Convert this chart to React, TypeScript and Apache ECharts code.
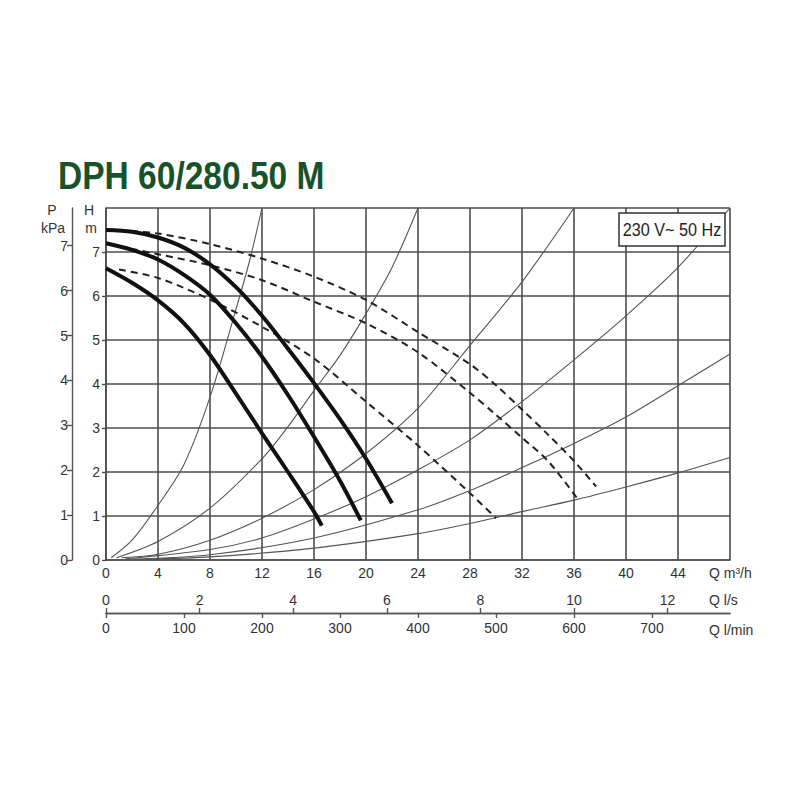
import React, { useEffect, useRef } from 'react';
import * as echarts from 'echarts';

const FONT = "'Liberation Sans', Arial, Helvetica, sans-serif";

// Tick values of the secondary scales
const lsTicks = [0, 2, 4, 6, 8, 10, 12];
const lminTicks = [0, 100, 200, 300, 400, 500, 600, 700];
const pTicks = [0, 1, 2, 3, 4, 5, 6, 7];

// Pump curves (Q m3/h, H m) – solid, three speeds
const speedHigh = [[0, 7.5], [2, 7.46], [4, 7.33], [6, 7.1], [8, 6.72], [10, 6.2], [12, 5.55], [14, 4.8], [16, 4.02], [18, 3.2], [20, 2.3], [22, 1.29]];
const speedMid = [[0, 7.2], [2, 7.05], [4, 6.83], [6, 6.48], [8, 6.03], [10, 5.38], [12, 4.62], [14, 3.75], [16, 2.8], [18, 1.8], [19.6, 0.9]];
const speedLow = [[0, 6.63], [2, 6.3], [4, 5.9], [6, 5.38], [8, 4.66], [10, 3.78], [12, 2.88], [14, 2.0], [16, 1.1], [16.6, 0.78]];

// Dashed curves
const dashHigh = [[1, 7.49], [4, 7.42], [8, 7.18], [12, 6.85], [16, 6.44], [20, 5.91], [24, 5.18], [28, 4.45], [30, 3.97], [32, 3.42], [34, 2.85], [36, 2.25], [37.7, 1.67]];
const dashMid = [[1, 7.13], [4, 6.95], [8, 6.7], [12, 6.36], [16, 5.87], [20, 5.38], [24, 4.72], [28, 3.8], [30, 3.3], [32, 2.78], [34, 2.25], [36.2, 1.42]];
const dashLow = [[1, 6.6], [4, 6.41], [8, 5.92], [12, 5.3], [16, 4.58], [20, 3.6], [24, 2.6], [28, 1.52], [30, 0.95]];

// System curves (thin)
const sysA = [[0.4, 0.05], [2, 0.45], [4, 1.24], [6, 2.17], [8, 3.7], [10, 5.7], [11, 6.75], [12, 8]];
const sysB = [[0.8, 0.05], [4, 0.42], [8, 1.18], [12, 2.3], [14, 3.03], [16, 3.85], [18, 4.65], [20, 5.6], [22, 6.65], [24, 8]];
const sysC = [[1.2, 0.05], [4, 0.13], [8, 0.45], [12, 0.95], [16, 1.6], [20, 2.42], [24, 3.45], [28, 4.88], [32, 6.32], [36, 8]];
const sysD = [[1.5, 0.03], [8, 0.24], [12, 0.5], [16, 0.93], [20, 1.44], [24, 2.05], [28, 2.73], [32, 3.6], [36, 4.55], [40, 5.55], [44, 6.65], [48, 8]];
const sysE = [[2, 0.02], [8, 0.12], [16, 0.5], [24, 1.14], [28, 1.58], [32, 2.1], [36, 2.65], [40, 3.25], [44, 3.96], [48, 4.68]];
const sysF = [[3, 0.02], [8, 0.07], [16, 0.27], [24, 0.6], [28, 0.83], [32, 1.1], [36, 1.36], [40, 1.66], [44, 1.98], [48, 2.33]];

const TITLE = 'DPH 60/280.50 M';
const BOX_TEXT = '230 V~ 50 Hz';

const GRID_COLOR = '#4d4d4d';
const LABEL_COLOR = '#333';

function lineSeries(data: number[][], lineStyle: any, z: number) {
  return {
    type: 'line',
    data,
    xAxisIndex: 0,
    yAxisIndex: 0,
    symbol: 'none',
    showSymbol: false,
    smooth: 0.3,
    silent: true,
    z,
    lineStyle,
  };
}

export default function App() {
  const ref = useRef<HTMLDivElement>(null);
  useEffect(() => {
    const chart = echarts.init(ref.current!, null, { renderer: 'svg' });
    const labelStyle = { color: LABEL_COLOR, fontSize: 14, fontFamily: FONT };
    const option: any = {
      animation: false,
      backgroundColor: '#fff',
      grid: { left: 106, top: 208, width: 624, height: 352, containLabel: false, outerBoundsMode: 'none' },
      xAxis: [
        {
          type: 'value', min: 0, max: 48, interval: 4, position: 'bottom',
          axisLine: { show: true, onZero: false, lineStyle: { color: GRID_COLOR, width: 1.6 } },
          axisTick: { show: false },
          axisLabel: { ...labelStyle, margin: 6, showMaxLabel: false },
          splitLine: { show: true, lineStyle: { color: GRID_COLOR, width: 1.6 } },
        },
        {
          type: 'value', min: 0, max: 48 / 3.6, position: 'bottom', offset: 53,
          axisLine: { show: true, onZero: false, lineStyle: { color: '#555', width: 1.4 } },
          axisTick: { show: true, inside: true, length: 5, customValues: lsTicks, lineStyle: { color: '#555', width: 1.4 } },
          axisLabel: { ...labelStyle, inside: true, margin: 6, customValues: lsTicks },
          splitLine: { show: false },
        },
        {
          type: 'value', min: 0, max: 800, position: 'bottom', offset: 53,
          axisLine: { show: true, onZero: false, lineStyle: { color: '#555', width: 1.4 } },
          axisTick: { show: true, inside: false, length: 5, customValues: lminTicks, lineStyle: { color: '#555', width: 1.4 } },
          axisLabel: { ...labelStyle, margin: 8, customValues: lminTicks },
          splitLine: { show: false },
        },
      ],
      yAxis: [
        {
          type: 'value', min: 0, max: 8, interval: 1, position: 'left',
          axisLine: { show: true, onZero: false, lineStyle: { color: GRID_COLOR, width: 1.6 } },
          axisTick: { show: true, length: 4, lineStyle: { color: GRID_COLOR, width: 1.4 } },
          axisLabel: { ...labelStyle, margin: 6, showMaxLabel: false },
          splitLine: { show: true, lineStyle: { color: GRID_COLOR, width: 1.6 } },
        },
        {
          type: 'value', min: 0, max: 7.84, position: 'left', offset: 34,
          axisLine: { show: true, onZero: false, lineStyle: { color: '#555', width: 1.4 } },
          axisTick: { show: true, length: 5, customValues: pTicks, lineStyle: { color: '#555', width: 1.4 } },
          axisLabel: { ...labelStyle, margin: 4, customValues: pTicks },
          splitLine: { show: false },
        },
      ],
      series: [
        lineSeries(sysA, { color: '#555', width: 1.1 }, 2),
        lineSeries(sysB, { color: '#555', width: 1.1 }, 2),
        lineSeries(sysC, { color: '#555', width: 1.1 }, 2),
        lineSeries(sysD, { color: '#555', width: 1.1 }, 2),
        lineSeries(sysE, { color: '#555', width: 1.1 }, 2),
        lineSeries(sysF, { color: '#555', width: 1.1 }, 2),
        lineSeries(dashHigh, { color: '#222', width: 2, type: [7, 5] }, 3),
        lineSeries(dashMid, { color: '#222', width: 2, type: [7, 5] }, 3),
        lineSeries(dashLow, { color: '#222', width: 2, type: [7, 5] }, 3),
        lineSeries(speedHigh, { color: '#111', width: 4 }, 4),
        lineSeries(speedMid, { color: '#111', width: 4 }, 4),
        lineSeries(speedLow, { color: '#111', width: 4 }, 4),
      ],
      graphic: [
        {
          type: 'text', x: 58, y: 176, scaleX: 0.86, z: 100,
          style: { text: TITLE, fontSize: 39, fontWeight: 'bold', fontFamily: FONT, fill: '#17522a', align: 'left', verticalAlign: 'middle' },
        },
        {
          type: 'rect', z: 100,
          shape: { x: 619, y: 213, width: 106, height: 33 },
          style: { fill: '#fff', stroke: '#333', lineWidth: 1.5 },
        },
        {
          type: 'text', x: 672, y: 230, scaleX: 0.9, z: 101,
          style: { text: BOX_TEXT, fontSize: 18, fontFamily: FONT, fill: '#222', align: 'center', verticalAlign: 'middle' },
        },
        { type: 'text', x: 52, y: 210, z: 100, style: { text: 'P', fontSize: 14, fontFamily: FONT, fill: LABEL_COLOR, align: 'center', verticalAlign: 'middle' } },
        { type: 'text', x: 53, y: 228, z: 100, style: { text: 'kPa', fontSize: 14, fontFamily: FONT, fill: LABEL_COLOR, align: 'center', verticalAlign: 'middle' } },
        { type: 'text', x: 89, y: 210, z: 100, style: { text: 'H', fontSize: 14, fontFamily: FONT, fill: LABEL_COLOR, align: 'center', verticalAlign: 'middle' } },
        { type: 'text', x: 91, y: 228, z: 100, style: { text: 'm', fontSize: 14, fontFamily: FONT, fill: LABEL_COLOR, align: 'center', verticalAlign: 'middle' } },
        { type: 'text', x: 709, y: 573, z: 100, style: { text: 'Q m³/h', fontSize: 14, fontFamily: FONT, fill: LABEL_COLOR, align: 'left', verticalAlign: 'middle' } },
        { type: 'text', x: 709, y: 600, z: 100, style: { text: 'Q l/s', fontSize: 14, fontFamily: FONT, fill: LABEL_COLOR, align: 'left', verticalAlign: 'middle' } },
        { type: 'text', x: 709, y: 630, z: 100, style: { text: 'Q l/min', fontSize: 14, fontFamily: FONT, fill: LABEL_COLOR, align: 'left', verticalAlign: 'middle' } },
      ],
    };
    chart.setOption(option);
    return () => chart.dispose();
  }, []);
  return (
    <div
      ref={ref}
      style={{ position: 'fixed', left: 0, top: 0, width: 800, height: 800, background: '#fff' }}
    />
  );
}
